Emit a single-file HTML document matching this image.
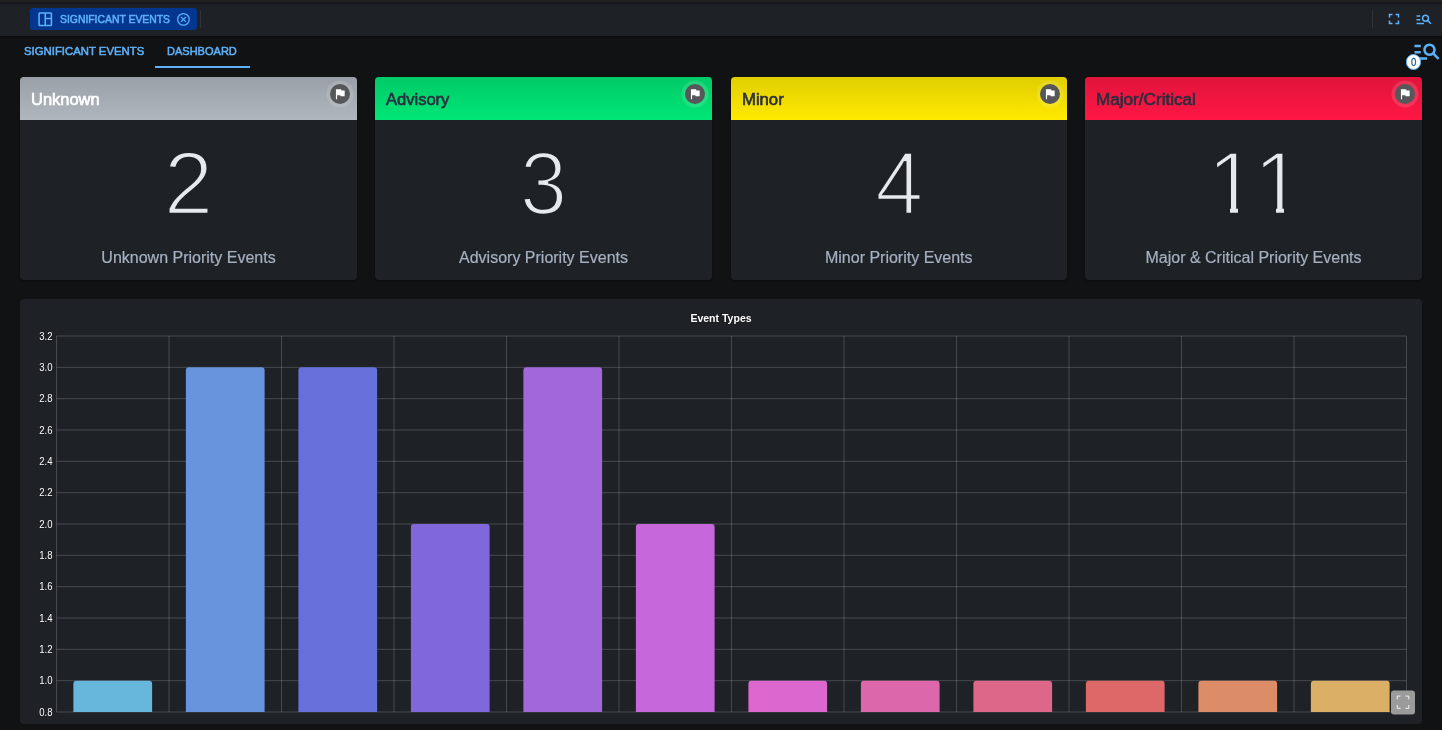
<!DOCTYPE html>
<html lang="en">
<head>
<meta charset="utf-8">
<title>Significant Events - Dashboard</title>
<style>
*{box-sizing:border-box;margin:0;padding:0}
html,body{width:1442px;height:730px;overflow:hidden;background:#111214;font-family:"Liberation Sans",sans-serif;color:#e4e7ec}
.abs{position:absolute}
#topbar{position:absolute;left:0;top:0;width:1442px;height:36px;background:#1e2126}
#topbar:before{content:"";position:absolute;left:0;top:0;width:100%;height:6px;background:linear-gradient(#222222 0,#222222 2px,rgba(14,15,18,.6) 2px,rgba(14,15,18,0) 6px)}
#topshadow{position:absolute;left:0;top:36px;width:1442px;height:3px;background:linear-gradient(rgba(0,0,0,.4),rgba(0,0,0,0))}
#chip{position:absolute;left:30px;top:8px;width:167px;height:22px;border-radius:3px;background:#03378f;color:#5db1f9}
#chip .t{position:absolute;left:30px;top:0;line-height:22px;font-size:11px;font-weight:400;-webkit-text-stroke:.55px #5db1f9;white-space:nowrap;transform-origin:0 50%;transform:scaleX(.944)}
.vsep{position:absolute;width:1px;background:#2f3338;top:10px;height:18px}
.tab{position:absolute;top:43px;height:16px;line-height:16px;font-size:11.800px;font-weight:400;-webkit-text-stroke:.55px #5db1f9;color:#5db1f9;white-space:nowrap;transform-origin:0 50%}
#underline{position:absolute;left:155px;top:66px;width:95px;height:2px;background:#5db1f9}
.card{position:absolute;top:76.600px;width:337px;height:203.700px;border-radius:4px;background:#1e2126;overflow:hidden;box-shadow:0 1px 2px rgba(0,0,0,.35)}
.card .hd{position:absolute;left:0;top:0;width:100%;height:43.300px;background-image:linear-gradient(rgba(0,0,0,.12),rgba(0,0,0,0))}
.card .hd .ttl{position:absolute;left:11px;top:12px;line-height:22px;font-size:16px;font-weight:400;-webkit-text-stroke:.6px;color:#2a2e3f;white-space:nowrap;transform-origin:0 50%}
.card .flag{position:absolute;right:7px;top:7px;width:20px;height:20px;border-radius:50%;background:#555759;box-shadow:0 0 0 3.5px rgba(255,255,255,.13)}
.card .flag svg{position:absolute;left:3px;top:3px;width:14px;height:14px}
.card .num{position:absolute;left:0;width:100%;top:56px;height:100px;line-height:100px;text-align:center;font-size:89px;color:#e6e9ee;-webkit-text-stroke:2.700px #1e2126;font-kerning:none}
.card .lbl{position:absolute;left:0;width:100%;top:170.400px;line-height:22px;text-align:center;font-size:16px;color:#a6b1c1;-webkit-text-stroke:.2px #a6b1c1;white-space:nowrap}
#panel{position:absolute;left:20px;top:299px;width:1402px;height:425px;border-radius:4px;background:#1e2126}
</style>
</head>
<body>
<div id="topbar">
  <div id="chip">
    <svg class="abs" style="left:5.740px;top:1.740px" width="18.500" height="18.500" viewBox="0 0 24 24" fill="#5db1f9"><path d="M19 3H5c-1.100 0-2 .9-2 2v14c0 1.100.9 2 2 2h14c1.100 0 2-.9 2-2V5c0-1.100-.9-2-2-2zM5 19V5h6v14H5zm14 0h-6v-7h6v7zm0-9h-6V5h6v5z"/></svg>
    <span class="t">SIGNIFICANT EVENTS</span>
    <svg class="abs" style="left:146px;top:4px" width="15" height="15" viewBox="0 0 15 15" fill="none" stroke="#5db1f9" stroke-width="1.250"><circle cx="7.450" cy="7.400" r="5.800"/><path d="M4.950 4.900l5 5M9.950 4.900l-5 5" stroke-width="1.300"/></svg>
  </div>
  <div class="vsep" style="left:200px"></div>
  <div class="vsep" style="left:1372px"></div>
  <svg class="abs" style="left:1385px;top:10.250px" width="18" height="18" viewBox="0 0 24 24" fill="#5db1f9"><path d="M7 14H5v5h5v-2H7v-3zm-2-4h2V7h3V5H5v5zm12 7h-3v2h5v-5h-2v3zM14 5v2h3v3h2V5h-5z"/></svg>
  <svg class="abs" style="left:1415px;top:9.750px" width="18" height="18" viewBox="0 0 24 24" fill="#5db1f9"><path d="M7 9H2V7h5v2zm0 3H2v2h5v-2zm13.590 7l-3.830-3.830c-.8.520-1.740.830-2.760.830-2.760 0-5-2.240-5-5s2.240-5 5-5 5 2.240 5 5c0 1.020-.310 1.960-.830 2.750L22 17.590 20.590 19zM17 11c0-1.650-1.350-3-3-3s-3 1.350-3 3 1.350 3 3 3 3-1.350 3-3zM2 19h10v-2H2v2z"/></svg>
</div>

<div id="topshadow"></div>
<div class="tab" style="left:23.500px;transform:scaleX(.962)">SIGNIFICANT EVENTS</div>
<div class="tab" style="left:167.300px;transform:scaleX(.934)">DASHBOARD</div>
<div id="underline"></div>

<svg class="abs" style="left:1411.600px;top:36.200px" width="30" height="30" viewBox="0 0 24 24" fill="#5db1f9"><path d="M7 9H2V7h5v2zm0 3H2v2h5v-2zm13.590 7l-3.830-3.830c-.8.520-1.740.830-2.760.830-2.760 0-5-2.240-5-5s2.240-5 5-5 5 2.240 5 5c0 1.020-.310 1.960-.830 2.750L22 17.590 20.590 19zM17 11c0-1.650-1.350-3-3-3s-3 1.350-3 3 1.350 3 3 3 3-1.350 3-3zM2 19h10v-2H2v2z"/></svg>
<div class="abs" style="left:1405.700px;top:54.200px;width:15.500px;height:15.500px;border-radius:50%;background:#fff;border:1.500px solid #5db1f9;color:#1d5f86;font-size:11px;line-height:14.400px;text-align:center;text-indent:.7px;-webkit-text-stroke:.3px #1d5f86"><span style="display:inline-block;transform:scaleX(.88)">0</span></div>

<div class="card" style="left:20px">
  <div class="hd" style="background-color:#b0b6be"><span class="ttl" style="color:#fff;transform:scaleX(1.028)">Unknown</span></div>
  <div class="flag"><svg viewBox="0 0 24 24" fill="#fff"><path d="M14.400 6L14 4H5v17h2v-7h5.600l.4 2h7V6z"/></svg></div>
  <div class="num">2</div>
  <div class="lbl">Unknown Priority Events</div>
</div>
<div class="card" style="left:375px">
  <div class="hd" style="background-color:#00e676"><span class="ttl" style="transform:scaleX(1.033)">Advisory</span></div>
  <div class="flag"><svg viewBox="0 0 24 24" fill="#fff"><path d="M14.400 6L14 4H5v17h2v-7h5.600l.4 2h7V6z"/></svg></div>
  <div class="num" style="transform:scaleX(.95)">3</div>
  <div class="lbl">Advisory Priority Events</div>
</div>
<div class="card" style="left:730.500px;width:336.500px">
  <div class="hd" style="background-color:#ffea00"><span class="ttl" style="transform:scaleX(1.042)">Minor</span></div>
  <div class="flag"><svg viewBox="0 0 24 24" fill="#fff"><path d="M14.400 6L14 4H5v17h2v-7h5.600l.4 2h7V6z"/></svg></div>
  <div class="num" style="transform:scaleX(.97)">4</div>
  <div class="lbl">Minor Priority Events</div>
</div>
<div class="card" style="left:1085px">
  <div class="hd" style="background-color:#ff1744"><span class="ttl" style="transform:scaleX(1.07)">Major/Critical</span></div>
  <div class="flag"><svg viewBox="0 0 24 24" fill="#fff"><path d="M14.400 6L14 4H5v17h2v-7h5.600l.4 2h7V6z"/></svg></div>
  <div class="num" id="n11" style="letter-spacing:-3.300px">11</div>
  <div class="abs" style="left:122px;top:129.300px;width:95px;height:10px;background:linear-gradient(90deg,#1e2126 0,#1e2126 22.800px,rgba(30,33,38,0) 22.800px,rgba(30,33,38,0) 30.800px,#1e2126 30.800px,#1e2126 69px,rgba(30,33,38,0) 69px,rgba(30,33,38,0) 77px,#1e2126 77px)"></div>
  <div class="lbl">Major &amp; Critical Priority Events</div>
</div>

<div id="panel"></div>
<!--CHART-->
<svg class="abs" style="left:0;top:0" width="1442" height="730" viewBox="0 0 1442 730" font-family="'Liberation Sans',sans-serif">
<path d="M56.50 336.00V712.00M169.00 336.00V712.00M281.50 336.00V712.00M394.00 336.00V712.00M506.50 336.00V712.00M619.00 336.00V712.00M731.50 336.00V712.00M844.00 336.00V712.00M956.50 336.00V712.00M1069.00 336.00V712.00M1181.50 336.00V712.00M1294.00 336.00V712.00M1406.50 336.00V712.00M56.50 712.00H1406.50M56.50 680.67H1406.50M56.50 649.33H1406.50M56.50 618.00H1406.50M56.50 586.67H1406.50M56.50 555.33H1406.50M56.50 524.00H1406.50M56.50 492.67H1406.50M56.50 461.33H1406.50M56.50 430.00H1406.50M56.50 398.67H1406.50M56.50 367.33H1406.50M56.50 336.00H1406.50" stroke="#ffffff" stroke-opacity="0.18" stroke-width="1" fill="none"/>
<path d="M73.38 712.00V683.67a3 3 0 0 1 3 -3H149.12a3 3 0 0 1 3 3V712.00z" fill="#67b7dc"/>
<path d="M185.88 712.00V370.33a3 3 0 0 1 3 -3H261.62a3 3 0 0 1 3 3V712.00z" fill="#6794dc"/>
<path d="M298.38 712.00V370.33a3 3 0 0 1 3 -3H374.12a3 3 0 0 1 3 3V712.00z" fill="#6771dc"/>
<path d="M410.88 712.00V527.00a3 3 0 0 1 3 -3H486.62a3 3 0 0 1 3 3V712.00z" fill="#8067dc"/>
<path d="M523.38 712.00V370.33a3 3 0 0 1 3 -3H599.12a3 3 0 0 1 3 3V712.00z" fill="#a367dc"/>
<path d="M635.88 712.00V527.00a3 3 0 0 1 3 -3H711.62a3 3 0 0 1 3 3V712.00z" fill="#c767dc"/>
<path d="M748.38 712.00V683.67a3 3 0 0 1 3 -3H824.12a3 3 0 0 1 3 3V712.00z" fill="#dc67ce"/>
<path d="M860.88 712.00V683.67a3 3 0 0 1 3 -3H936.62a3 3 0 0 1 3 3V712.00z" fill="#dc67ab"/>
<path d="M973.38 712.00V683.67a3 3 0 0 1 3 -3H1049.12a3 3 0 0 1 3 3V712.00z" fill="#dc6788"/>
<path d="M1085.88 712.00V683.67a3 3 0 0 1 3 -3H1161.62a3 3 0 0 1 3 3V712.00z" fill="#dc6967"/>
<path d="M1198.38 712.00V683.67a3 3 0 0 1 3 -3H1274.12a3 3 0 0 1 3 3V712.00z" fill="#dc8c67"/>
<path d="M1310.88 712.00V683.67a3 3 0 0 1 3 -3H1386.62a3 3 0 0 1 3 3V712.00z" fill="#dcaf67"/>
<g font-size="10" fill="#ffffff" text-anchor="end" style="paint-order:stroke" stroke="#111316" stroke-width="1" stroke-opacity=".6">
<text x="52.600" y="715.80" textLength="13.300" lengthAdjust="spacingAndGlyphs">0.8</text>
<text x="52.600" y="684.47" textLength="13.300" lengthAdjust="spacingAndGlyphs">1.0</text>
<text x="52.600" y="653.13" textLength="13.300" lengthAdjust="spacingAndGlyphs">1.2</text>
<text x="52.600" y="621.80" textLength="13.300" lengthAdjust="spacingAndGlyphs">1.4</text>
<text x="52.600" y="590.47" textLength="13.300" lengthAdjust="spacingAndGlyphs">1.6</text>
<text x="52.600" y="559.13" textLength="13.300" lengthAdjust="spacingAndGlyphs">1.8</text>
<text x="52.600" y="527.80" textLength="13.300" lengthAdjust="spacingAndGlyphs">2.0</text>
<text x="52.600" y="496.47" textLength="13.300" lengthAdjust="spacingAndGlyphs">2.2</text>
<text x="52.600" y="465.13" textLength="13.300" lengthAdjust="spacingAndGlyphs">2.4</text>
<text x="52.600" y="433.80" textLength="13.300" lengthAdjust="spacingAndGlyphs">2.6</text>
<text x="52.600" y="402.47" textLength="13.300" lengthAdjust="spacingAndGlyphs">2.8</text>
<text x="52.600" y="371.13" textLength="13.300" lengthAdjust="spacingAndGlyphs">3.0</text>
<text x="52.600" y="339.80" textLength="13.300" lengthAdjust="spacingAndGlyphs">3.2</text>
</g>
<text x="690.400" y="322.300" font-size="11" font-weight="700" fill="#ffffff" textLength="61.200" lengthAdjust="spacingAndGlyphs" style="paint-order:stroke" stroke="#111316" stroke-width="1" stroke-opacity=".6">Event Types</text>
<rect x="1391" y="690.500" width="24" height="24" rx="3" fill="#9b9b9b"/>
<path d="M1397.200 699.400V696.100H1400.500M1405.500 696.100H1408.800V699.400M1408.800 705V708.300H1405.500M1400.500 708.300H1397.200V705" fill="none" stroke="#f2f2f2" stroke-width="1"/>
</svg>
</body>
</html>
